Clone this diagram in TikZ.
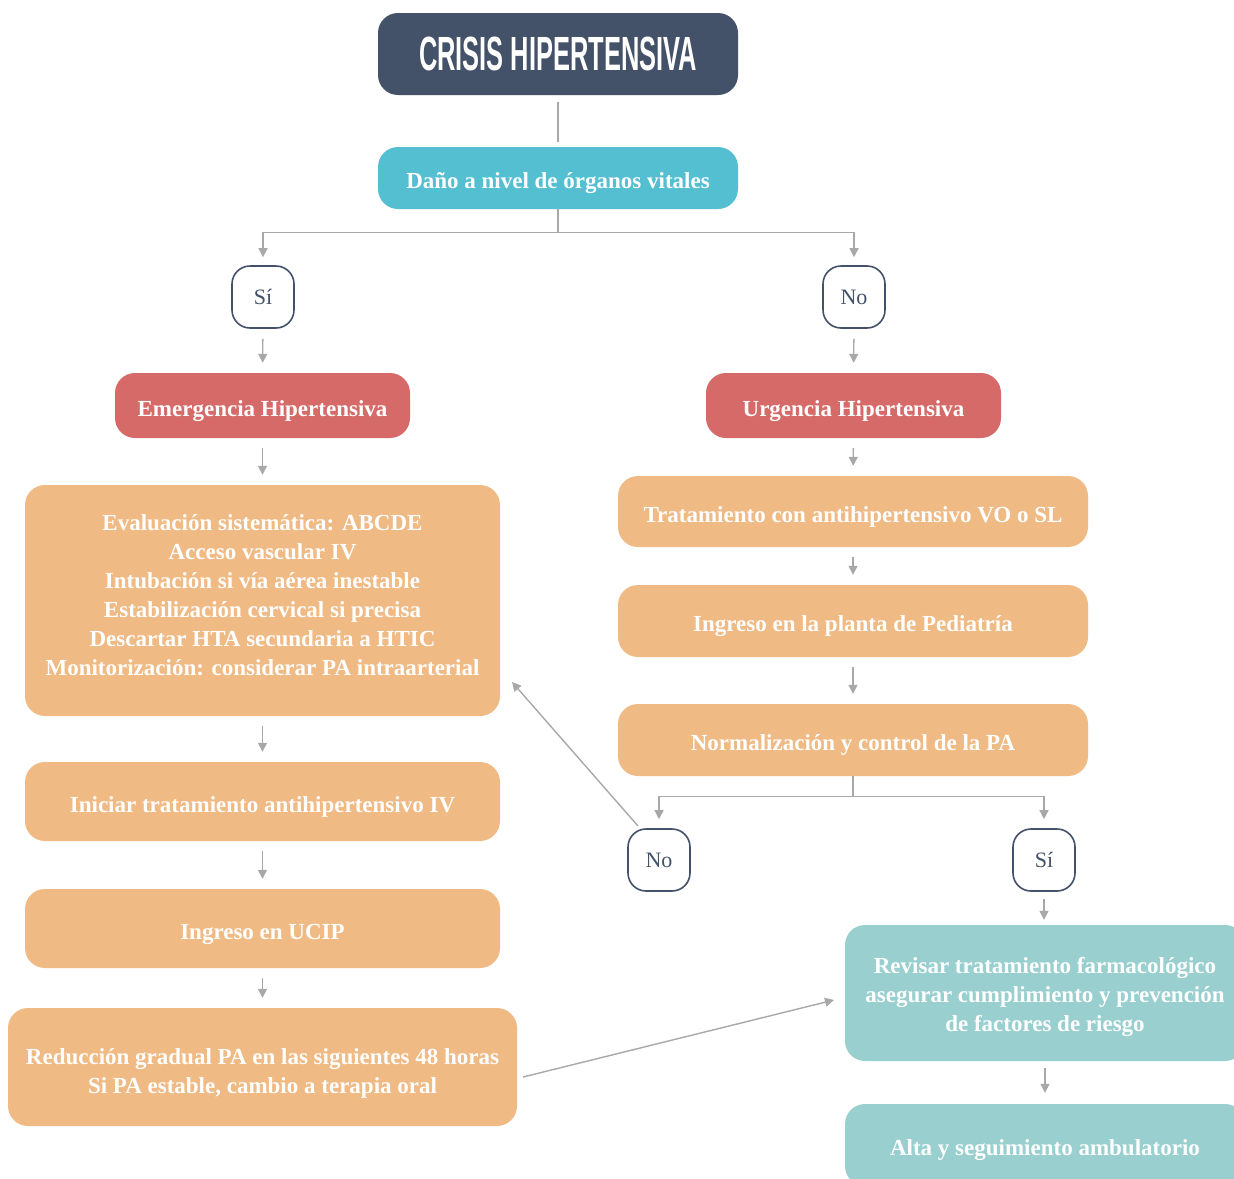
\documentclass[tikz,border=0pt]{standalone}
\usepackage{fontspec}
\setmainfont{Liberation Serif}
\newfontfamily\titlefont[FakeStretch=0.53]{Liberation Sans}
\usetikzlibrary{arrows.meta}

\definecolor{slate}{HTML}{435269}
\definecolor{sky}{HTML}{54BFD1}
\definecolor{coral}{HTML}{D56A68}
\definecolor{peach}{HTML}{F0BA85}
\definecolor{mint}{HTML}{99CFCF}
\definecolor{wire}{HTML}{A8A8A8}

\tikzset{
  box/.style={rectangle,rounded corners=20pt,align=center,text=white,
    text height=25pt,text depth=4pt,
    font=\fontsize{23}{29}\selectfont\bfseries},
  answer/.style={rectangle,rounded corners=18pt,draw=slate,line width=1.6pt,
    fill=white,text=slate,minimum width=62pt,minimum height=62pt,
    font=\fontsize{22}{26}\selectfont},
  link/.style={draw=wire,line width=1.4pt,-{Triangle[length=9pt,width=9pt]}},
  gap/.style={shorten <=10pt,shorten >=10pt}
}

\begin{document}
\begin{tikzpicture}[x=1pt,y=-1pt]
  \useasboundingbox (0,0) rectangle (1234,1178);

  % top of the chart
  \node[box,fill=slate,minimum width=360pt,minimum height=82pt,text height=35pt,text depth=2pt,
    font=\fontsize{48}{50}\selectfont\titlefont\bfseries] (crisis) at (558,54) {CRISIS HIPERTENSIVA};
  \node[box,fill=sky,minimum width=360pt,minimum height=62pt] (dano) at (558,178) {Daño a nivel de órganos vitales};

  \node[answer] (q_si) at (263,297) {Sí};
  \node[answer] (q_no) at (854,297) {No};

  % left branch
  \node[box,fill=coral,minimum width=295pt,minimum height=65pt] (emergencia) at (262.5,405.5) {Emergencia Hipertensiva};
  \node[box,fill=peach,minimum width=475pt,minimum height=231pt,text height=157pt,text depth=7pt] (evaluacion) at (262.5,600.5)
    {Evaluación sistemática: ABCDE\\ Acceso vascular IV\\ Intubación si vía aérea inestable\\
     Estabilización cervical si precisa\\ Descartar HTA secundaria a HTIC\\
     Monitorización: considerar PA intraarterial};
  \node[box,fill=peach,minimum width=475pt,minimum height=79pt] (iniciar) at (262.5,801.5) {Iniciar tratamiento antihipertensivo IV};
  \node[box,fill=peach,minimum width=475pt,minimum height=79pt] (ucip) at (262.5,928.5) {Ingreso en UCIP};
  \node[box,fill=peach,minimum width=509pt,minimum height=118pt,text height=60pt,text depth=8pt] (reduccion) at (262.5,1067)
    {Reducción gradual PA en las siguientes 48 horas\\ Si PA estable, cambio a terapia oral};

  % right branch
  \node[box,fill=coral,minimum width=295pt,minimum height=65pt] (urgencia) at (853.5,405.5) {Urgencia Hipertensiva};
  \node[box,fill=peach,minimum width=470pt,minimum height=71pt] (tratamiento) at (853,511.5) {Tratamiento con antihipertensivo VO o SL};
  \node[box,fill=peach,minimum width=470pt,minimum height=72pt] (planta) at (853,621) {Ingreso en la planta de Pediatría};
  \node[box,fill=peach,minimum width=470pt,minimum height=72pt] (normal) at (853,740) {Normalización y control de la PA};

  \node[answer] (q_no2) at (659,860) {No};
  \node[answer] (q_si2) at (1044,860) {Sí};

  \node[box,fill=mint,minimum width=400pt,minimum height=136pt,text height=83pt,text depth=7pt] (revisar) at (1045,993)
    {Revisar tratamiento farmacológico\\ asegurar cumplimiento y prevención\\ de factores de riesgo};
  \node[box,fill=mint,minimum width=400pt,minimum height=82pt] (alta) at (1045,1145) {Alta y seguimiento ambulatorio};

  \coordinate (no_tail) at (638,826);
  \coordinate (eval_head) at (512,682);
  \coordinate (red_tail) at (523,1077);
  \coordinate (rev_head) at (834,1000);

  \draw[draw=wire,line width=1.4pt,shorten <=7pt,shorten >=5pt] (crisis) -- (dano);
  \draw[link,shorten >=8pt] (dano.south) -- ++(0,23) -| (q_si);
  \draw[link,shorten >=8pt] (dano.south) -- ++(0,23) -| (q_no);
  \draw[link,shorten >=9pt] (normal.south) -- ++(0,20) -| (q_no2);
  \draw[link,shorten >=9pt] (normal.south) -- ++(0,20) -| (q_si2);

  \path[every edge/.style={draw,link,gap}]
    (q_si) edge (emergencia)
    (emergencia) edge (evaluacion)
    (evaluacion) edge (iniciar)
    (iniciar) edge (ucip)
    (ucip) edge (reduccion)
    (q_no) edge (urgencia)
    (urgencia) edge (tratamiento)
    (tratamiento) edge (planta)
    (planta) edge (normal)
    (q_si2) edge [shorten <=7pt,shorten >=5pt] (q_si2 |- revisar.north)
    (revisar.south) edge [shorten <=7pt,shorten >=11pt] (revisar.south |- alta.north);

  \draw[link] (no_tail) -- (eval_head);
  \draw[link] (red_tail) -- (rev_head);
\end{tikzpicture}
\end{document}
